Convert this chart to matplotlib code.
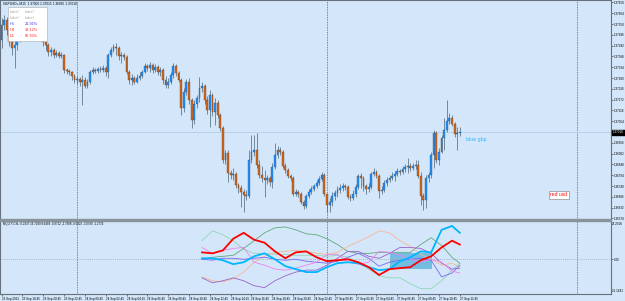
import numpy as np
import matplotlib.pyplot as plt
from matplotlib.patches import Rectangle

W, H = 625, 301
BG = '#d4e7fa'
plt.rcParams['font.family'] = ['Liberation Sans', 'DejaVu Sans']

# GBPUSD M15 candles, 23 Sep 16:45 .. 27 Sep 12:45
first_open = 1.37470
closes = [1.37545, 1.37570, 1.37520, 1.37460, 1.37430, 1.37445, 1.37480, 1.37520, 1.37540, 1.37560,
          1.37580, 1.37600, 1.37570, 1.37550, 1.37520, 1.37500, 1.37460, 1.37445, 1.37410, 1.37420,
          1.37395, 1.37405, 1.37390, 1.37395, 1.37320, 1.37315, 1.37310, 1.37290, 1.37270, 1.37275,
          1.37260, 1.37270, 1.37240, 1.37260, 1.37310, 1.37320, 1.37315, 1.37325, 1.37320, 1.37330,
          1.37310, 1.37395, 1.37420, 1.37435, 1.37430, 1.37390, 1.37395, 1.37385, 1.37310, 1.37270,
          1.37280, 1.37260, 1.37280, 1.37290, 1.37310, 1.37340, 1.37330, 1.37345, 1.37320, 1.37335,
          1.37310, 1.37320, 1.37270, 1.37245, 1.37260, 1.37295, 1.37340, 1.37305, 1.37270, 1.37130,
          1.37210, 1.37260, 1.37170, 1.37070, 1.37150, 1.37180, 1.37230, 1.37240, 1.37170, 1.37120,
          1.37195, 1.37110, 1.37155, 1.37095, 1.37030, 1.36870, 1.36905, 1.36805, 1.36795, 1.36800,
          1.36745, 1.36730, 1.36710, 1.36695, 1.36690, 1.36870, 1.36910, 1.36920, 1.36845, 1.36795,
          1.36780, 1.36770, 1.36780, 1.36760, 1.36835, 1.36895, 1.36920, 1.36910, 1.36840, 1.36820,
          1.36790, 1.36780, 1.36700, 1.36710, 1.36700, 1.36660, 1.36640, 1.36690, 1.36710, 1.36725,
          1.36740, 1.36755, 1.36775, 1.36795, 1.36700, 1.36645, 1.36660, 1.36690, 1.36705, 1.36720,
          1.36730, 1.36740, 1.36735, 1.36685, 1.36680, 1.36700, 1.36735, 1.36790, 1.36780, 1.36740,
          1.36725, 1.36735, 1.36800, 1.36810, 1.36790, 1.36715, 1.36720, 1.36755, 1.36770, 1.36780,
          1.36790, 1.36800, 1.36815, 1.36810, 1.36825, 1.36835, 1.36840, 1.36830, 1.36840, 1.36845,
          1.36790, 1.36690, 1.36670, 1.36780, 1.36795, 1.36895, 1.37005, 1.36870, 1.36910, 1.36980,
          1.37020, 1.37065, 1.37080, 1.37050, 1.37000, 1.37005, 1.37010]
highs = [1.37580, 1.37595, 1.37585, 1.37530, 1.37480, 1.37470, 1.37495, 1.37530, 1.37560, 1.37595,
         1.37610, 1.37620, 1.37610, 1.37590, 1.37570, 1.37540, 1.37520, 1.37480, 1.37455, 1.37435,
         1.37430, 1.37420, 1.37415, 1.37410, 1.37400, 1.37330, 1.37325, 1.37315, 1.37300, 1.37290,
         1.37285, 1.37295, 1.37285, 1.37275, 1.37320, 1.37335, 1.37330, 1.37335, 1.37340, 1.37345,
         1.37340, 1.37405, 1.37435, 1.37450, 1.37455, 1.37440, 1.37410, 1.37405, 1.37395, 1.37320,
         1.37300, 1.37290, 1.37300, 1.37310, 1.37320, 1.37355, 1.37350, 1.37360, 1.37355, 1.37350,
         1.37345, 1.37335, 1.37330, 1.37290, 1.37280, 1.37310, 1.37355, 1.37350, 1.37315, 1.37280,
         1.37230, 1.37275, 1.37280, 1.37180, 1.37170, 1.37195, 1.37285, 1.37260, 1.37250, 1.37190,
         1.37220, 1.37205, 1.37180, 1.37170, 1.37105, 1.37040, 1.36920, 1.36920, 1.36820, 1.36830,
         1.36810, 1.36755, 1.36745, 1.36725, 1.36720, 1.36920, 1.36995, 1.36995, 1.37005, 1.36870,
         1.36840, 1.36820, 1.36795, 1.36790, 1.36855, 1.36955, 1.36940, 1.36935, 1.36920, 1.36855,
         1.36830, 1.36800, 1.36790, 1.36725, 1.36720, 1.36710, 1.36670, 1.36700, 1.36725, 1.36740,
         1.36750, 1.36770, 1.36790, 1.36810, 1.36805, 1.36700, 1.36680, 1.36710, 1.36720, 1.36740,
         1.36750, 1.36755, 1.36750, 1.36745, 1.36700, 1.36720, 1.36750, 1.36800, 1.36805, 1.36790,
         1.36750, 1.36755, 1.36810, 1.36830, 1.36820, 1.36800, 1.36740, 1.36770, 1.36785, 1.36795,
         1.36810, 1.36815, 1.36830, 1.36825, 1.36840, 1.36850, 1.36880, 1.36855, 1.36855, 1.36870,
         1.36870, 1.36810, 1.36705, 1.36795, 1.36810, 1.36910, 1.37020, 1.37015, 1.36930, 1.36995,
         1.37080, 1.37170, 1.37105, 1.37095, 1.37060, 1.37035, 1.37035]
lows = [1.37430, 1.37520, 1.37495, 1.37440, 1.37395, 1.37330, 1.37420, 1.37460, 1.37505, 1.37520,
        1.37545, 1.37560, 1.37545, 1.37530, 1.37500, 1.37480, 1.37440, 1.37420, 1.37390, 1.37390,
        1.37380, 1.37385, 1.37380, 1.37380, 1.37305, 1.37300, 1.37295, 1.37270, 1.37255, 1.37250,
        1.37240, 1.37145, 1.37230, 1.37230, 1.37250, 1.37300, 1.37305, 1.37305, 1.37310, 1.37310,
        1.37290, 1.37280, 1.37385, 1.37410, 1.37395, 1.37370, 1.37355, 1.37370, 1.37300, 1.37250,
        1.37245, 1.37250, 1.37255, 1.37270, 1.37280, 1.37305, 1.37315, 1.37310, 1.37305, 1.37310,
        1.37295, 1.37290, 1.37250, 1.37230, 1.37230, 1.37250, 1.37280, 1.37290, 1.37260, 1.37095,
        1.37110, 1.37195, 1.37150, 1.37030, 1.37050, 1.37130, 1.37160, 1.37210, 1.37150, 1.37100,
        1.37035, 1.37090, 1.37045, 1.37080, 1.37015, 1.36855, 1.36850, 1.36760, 1.36775, 1.36770,
        1.36730, 1.36705, 1.36635, 1.36610, 1.36670, 1.36680, 1.36855, 1.36890, 1.36830, 1.36780,
        1.36760, 1.36685, 1.36750, 1.36740, 1.36730, 1.36825, 1.36880, 1.36895, 1.36830, 1.36805,
        1.36780, 1.36765, 1.36690, 1.36690, 1.36685, 1.36650, 1.36625, 1.36630, 1.36680, 1.36700,
        1.36715, 1.36730, 1.36745, 1.36765, 1.36690, 1.36610, 1.36610, 1.36640, 1.36670, 1.36685,
        1.36705, 1.36715, 1.36720, 1.36675, 1.36665, 1.36670, 1.36685, 1.36725, 1.36730, 1.36715,
        1.36700, 1.36710, 1.36725, 1.36790, 1.36780, 1.36680, 1.36700, 1.36710, 1.36740, 1.36760,
        1.36770, 1.36765, 1.36790, 1.36795, 1.36800, 1.36810, 1.36805, 1.36815, 1.36820, 1.36825,
        1.36780, 1.36645, 1.36620, 1.36630, 1.36760, 1.36780, 1.36830, 1.36855, 1.36845, 1.36905,
        1.36920, 1.37010, 1.37050, 1.37040, 1.36985, 1.36920, 1.36990]

price_ticks = [1.37658, 1.37604, 1.37550, 1.37496, 1.37442, 1.37388, 1.37334, 1.37280, 1.37226, 1.37172,
               1.37118, 1.37064, 1.36956, 1.36902, 1.36848, 1.36794, 1.36740, 1.36686, 1.36632, 1.36578]
day_starts = [29, 125, 221]          # 24 Sep, 27 Sep, 28 Sep 00:00
time_bars = [0, 8, 16, 24, 32, 40, 48, 56, 64, 72, 80, 88, 96, 104, 112, 120, 128, 136, 144, 152, 160, 168, 176]
time_labels = ['23 Sep 2021', '23 Sep 18:45', '23 Sep 20:45', '23 Sep 22:45', '24 Sep 00:45', '24 Sep 02:45',
               '24 Sep 04:45', '24 Sep 06:45', '24 Sep 08:45', '24 Sep 10:45', '24 Sep 12:45', '24 Sep 14:45',
               '24 Sep 16:45', '24 Sep 18:45', '24 Sep 20:45', '24 Sep 22:45', '27 Sep 00:45', '27 Sep 02:45',
               '27 Sep 04:45', '27 Sep 06:45', '27 Sep 08:45', '27 Sep 10:45', '27 Sep 12:45']

# currency strength lines (indicator window)
ind_bars = [77, 81, 85, 89, 93, 97, 101, 105, 109, 113, 117, 121, 125,
            129, 133, 137, 141, 145, 149, 153, 157, 161, 165, 169, 173, 176]
csl_red = [4.2, 3.6, 5.4, 12.5, 16.1, 11.9, 10.1, 4.8, 0.6, 4.2, 4.8, 1.2, -1.2,
           -0.6, 0.0, -1.8, -4.8, -9.6, -6.0, -5.4, -4.8, -0.6, 1.8, 7.2, 11.3, 9.0]
csl_blue = [0.6, 0.6, -0.6, -3.0, -1.8, 1.8, 3.6, 0.0, -4.2, -6.0, -7.8, -7.8, -4.8,
            -2.4, -1.8, -2.4, -4.8, -6.6, -6.0, -1.2, 1.2, 4.8, 4.2, 17.9, 20.3, 16.1]
csl_green = [0.0, 1.2, 1.8, 2.4, 6.6, 11.3, 16.1, 19.1, 19.7, 17.9, 15.5, 14.9, 12.5,
             9.0, 4.8, 3.6, 3.6, 4.2, 4.2, 4.2, 4.2, 9.0, 13.1, 8.4, 1.2, -2.4]
csl_aqua = [11.3, 17.3, 14.9, 11.3, 6.0, 3.6, 3.6, 3.0, 3.0, 2.4, 2.4, 2.4, 1.8,
            2.4, 1.2, -1.8, -6.0, -10.1, -11.3, -11.3, -14.9, -17.9, -17.9, -13.1, -6.6, -2.4]
csl_slate = [0.0, -0.6, 0.6, 0.6, 0.0, 0.6, 1.2, 0.0, -0.6, 0.0, -1.2, -1.8, -2.4,
             -1.2, 1.2, 3.6, 0.6, -4.2, -1.8, -0.6, 0.0, 0.6, -0.6, -10.7, -8.4, -3.6]
csl_violet = [7.2, 3.6, 5.4, 6.6, 7.2, -1.8, -3.6, -6.0, -6.6, -5.4, -3.6, -1.8, 3.0,
              3.0, -1.8, -3.0, -1.8, 4.8, 4.2, 2.4, 0.0, -1.8, 0.0, -1.8, -7.2, -8.4]
csl_peach = [-10.7, -13.1, -13.7, -11.9, -7.8, -1.8, 1.8, 4.2, 4.8, 5.4, 4.8, 3.6, 3.0,
             4.2, 7.8, 10.7, 13.7, 17.3, 16.1, 11.3, 7.8, 3.0, 0.0, -3.6, -2.4, -4.8]
csl_purple = [-11.3, -14.3, -13.1, -11.3, -13.1, -16.1, -17.3, -13.1, -10.1, -7.8, -6.6, -6.6, -3.6,
              0.6, 4.8, 4.8, 1.8, 0.6, 3.6, 7.2, 7.2, 6.6, 3.6, -2.4, -6.0, -5.4]
ind_max, ind_min = 23.2918, -21.1441
rect_bars = [149.2, 165.3]
rect_vals = [-6.0, 3.6]

table_rows = [('Label', 'Label', '#a0a0a0'), ('Label', 'Label', '#a0a0a0'),
              ('H1', '21.95%', '#3030ff'), ('H4', '39.12%', '#ff2020'), ('D1', '82.39%', '#ff2020')]

small = 2.2    # axis label size (pt)


def box(x0, y0, x1, y1):    # pixel box -> figure fraction
    return [x0 / W, 1 - y1 / H, (x1 - x0) / W, (y1 - y0) / H]


def fx(px):
    return px / W


def fy(py):
    return 1 - py / H


fig = plt.figure(figsize=(W / 100, H / 100), dpi=100, facecolor=BG)
ax = fig.add_axes(box(0, 0, 611, 218.5))
ind = fig.add_axes(box(0, 221, 611, 294))
xlim = (-0.58, 234.06)
for a in (ax, ind):
    a.set_facecolor(BG)
    a.set_xlim(*xlim)
    for s in a.spines.values():
        s.set_color('#66737e')
        s.set_linewidth(0.8)
    for d in day_starts:
        a.axvline(d, color='#56666f', lw=0.6, ls=(0, (1, 1)), zorder=1)
ax.spines['bottom'].set_visible(False)
ind.spines['top'].set_visible(False)

# candles
closes = np.array(closes)
opens = np.r_[first_open, closes[:-1]]
highs = np.maximum(np.array(highs), np.maximum(opens, closes))
lows = np.minimum(np.array(lows), np.minimum(opens, closes))
bars = np.arange(len(closes))
up = closes >= opens
ax.vlines(bars, lows, highs, color='#4b6377', lw=0.5, zorder=2)
ax.bar(bars[up], (closes - opens)[up], bottom=opens[up], width=0.7,
       color='#1e90ff', edgecolor='#2a5675', lw=0.25, zorder=3)
ax.bar(bars[~up], (closes - opens)[~up], bottom=opens[~up], width=0.7,
       color='#d2691e', edgecolor='#6a3516', lw=0.25, zorder=3)
ax.axhline(closes[-1], color='#b6cde5', lw=0.6, zorder=1)
ax.set_ylim(1.37670 - 218.5 * 0.00005, 1.37670)
ax.set_xticks([])
ax.yaxis.tick_right()
ax.set_yticks(price_ticks, labels=['%.5f' % t for t in price_ticks])
ax.tick_params(axis='y', length=1.2, width=0.5, color='#444', labelsize=small, pad=0.6)

ax.text(178.4, 1.36970, 'blue gbp', color='#3cb4ef', fontsize=3.8, va='center', ha='left')

# indicator window
ind.add_patch(Rectangle((rect_bars[0], rect_vals[0]), rect_bars[1] - rect_bars[0], rect_vals[1] - rect_vals[0],
                        color='#62b6de', alpha=0.85, lw=0, zorder=1))
ind.axhline(0, color='#98a8b6', lw=0.6, ls=(0, (1, 1.5)), zorder=1)
thin = [(csl_aqua, '#8fd6b6'), (csl_green, '#5fa97b'), (csl_peach, '#f4b794'), (csl_purple, '#9b62c8'),
        (csl_slate, '#7b68ee'), (csl_violet, '#ee82ee')]
for vals, col in thin:
    ind.plot(ind_bars, vals, color=col, lw=0.6, zorder=2)
ind.plot(ind_bars, csl_blue, color='#00b6ff', lw=1.3, zorder=3)
ind.plot(ind_bars, csl_red, color='#ff0000', lw=1.3, zorder=4)
ind.set_ylim(ind_min, ind_max)
ind.yaxis.tick_right()
ind.set_yticks([0], labels=['0.00'])
ind.tick_params(axis='y', length=1.2, width=0.5, color='#444', labelsize=small, pad=0.6)
ind.text(1.002, 0.985, '%.4f' % ind_max, transform=ind.transAxes, fontsize=small, va='top')
ind.text(1.002, 0.02, '%.4f' % ind_min, transform=ind.transAxes, fontsize=small, va='bottom')
ind.set_xticks(time_bars, labels=time_labels)
ind.tick_params(axis='x', length=1.5, width=0.5, color='#444', labelsize=small, pad=0.8)
for lab in ind.get_xticklabels():
    lab.set_ha('left')

# window separator and price box
fig.patches.append(Rectangle((0, fy(221)), fx(611), 2.5 / H, transform=fig.transFigure, color='#88939c'))
fig.patches.append(Rectangle((fx(611.5), fy(134.5)), fx(13.5), 5 / H, transform=fig.transFigure, color='black'))
fig.text(fx(612.5), fy(132), '%.5f' % closes[-1], color='white', fontsize=small, va='center')

fig.text(fx(3), fy(1.5), 'GBPUSD+,M15  1.37000 1.37015 1.36995 1.37010', fontsize=2.3, va='top')
fig.text(fx(3), fy(224), 'MQLTY-CSL: 0.2937 16.7289 8.6489 -0.9712 -2.7988 -0.0929 -3.0789 -1.2735',
         fontsize=2.1, va='center')

# table label
fig.patches.append(Rectangle((fx(8), fy(41)), fx(39), 34 / H, transform=fig.transFigure,
                             fc='white', ec='#b8b8b8', lw=0.5))
for k, (c1, c2, col) in enumerate(table_rows):
    yy = fy(12 + 6 * k)
    fig.text(fx(10), yy, c1, color=col, fontsize=2.8, va='center')
    fig.text(fx(25), yy, c2, color=col, fontsize=2.8, va='center')

fig.text(fx(559), fy(195), 'red usd', color='#ff0000', fontsize=3.6, ha='center', va='center',
         bbox=dict(boxstyle='square,pad=0.25', fc='white', ec='#909090', lw=0.5))

plt.savefig('out.png', dpi=100, facecolor=BG)
